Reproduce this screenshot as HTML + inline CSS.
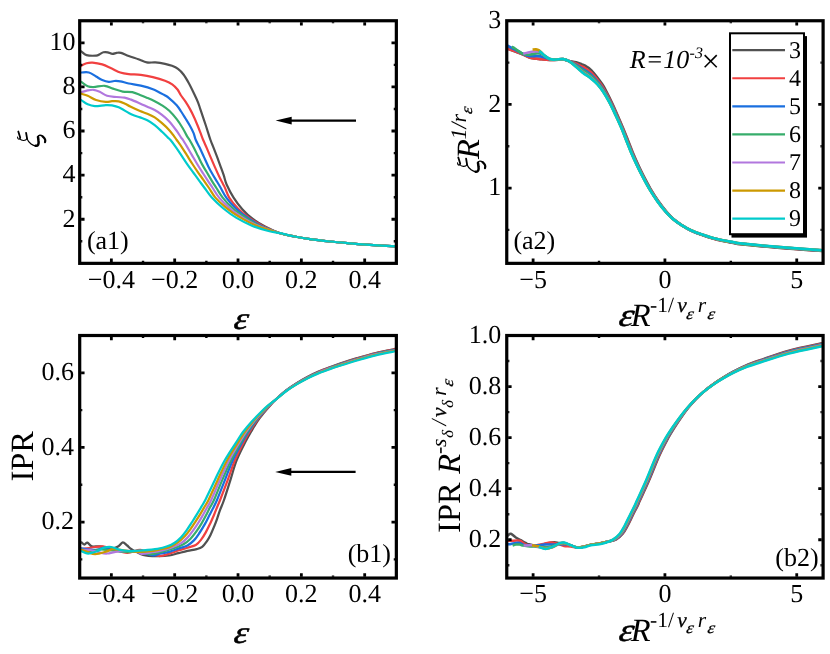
<!DOCTYPE html>
<html><head><meta charset="utf-8"><title>figure</title>
<style>html,body{margin:0;padding:0;background:#fff;}body{width:830px;height:654px;overflow:hidden;font-family:"Liberation Serif",serif;}svg{display:block;will-change:transform;}text{text-rendering:geometricPrecision;}</style></head>
<body>
<svg width="830" height="654" viewBox="0 0 830 654" font-family="'Liberation Serif', serif" fill="#000">
<rect width="830" height="654" fill="#fff"/>
<clipPath id="ca1"><rect x="79.70" y="20.75" width="316.65" height="242.60"/></clipPath>
<g clip-path="url(#ca1)" fill="none" stroke-width="2.20" stroke-linejoin="round" stroke-linecap="butt">
<path d="M79.70,50.60C80.02,50.78 80.47,50.95 81.60,51.70C82.73,52.45 84.08,54.45 86.50,55.10C88.92,55.75 93.90,55.75 96.10,55.60C98.30,55.45 98.48,54.75 99.70,54.20C100.92,53.65 102.08,52.62 103.40,52.30C104.72,51.98 106.10,52.03 107.60,52.30C109.10,52.57 110.90,53.80 112.40,53.90C113.90,54.00 115.18,53.07 116.60,52.90C118.02,52.73 118.88,52.38 120.90,52.90C122.92,53.42 125.78,54.93 128.70,56.00C131.62,57.07 135.38,58.23 138.40,59.30C141.42,60.37 143.98,61.88 146.80,62.40C149.62,62.92 152.27,62.17 155.30,62.40C158.33,62.63 162.22,63.23 165.00,63.80C167.78,64.37 169.83,64.95 172.00,65.80C174.17,66.65 176.08,67.45 178.00,68.90C179.92,70.35 181.67,72.07 183.50,74.50C185.33,76.93 187.13,80.08 189.00,83.50C190.87,86.92 193.20,91.87 194.70,95.00C196.20,98.13 197.05,99.92 198.00,102.30C198.95,104.68 199.15,105.60 200.40,109.30C201.65,113.00 203.82,119.38 205.50,124.50C207.18,129.62 209.18,136.20 210.50,140.00C211.82,143.80 212.30,144.48 213.40,147.30C214.50,150.12 215.87,153.60 217.10,156.90C218.33,160.20 219.70,164.05 220.80,167.10C221.90,170.15 222.73,172.30 223.70,175.20C224.67,178.10 224.95,180.77 226.60,184.50C228.25,188.23 230.98,193.48 233.60,197.60C236.22,201.72 239.15,205.68 242.30,209.20C245.45,212.72 248.63,215.78 252.50,218.70C256.37,221.62 260.90,224.28 265.50,226.70C270.10,229.12 275.25,231.57 280.10,233.20C284.95,234.83 289.62,235.50 294.60,236.50C299.58,237.50 304.10,238.37 310.00,239.20C315.90,240.03 323.33,240.82 330.00,241.50C336.67,242.18 343.33,242.73 350.00,243.30C356.67,243.87 362.23,244.38 370.00,244.90C377.77,245.42 392.17,246.15 396.60,246.40" stroke="#515151"/>
<path d="M79.70,67.20C80.02,66.93 80.47,66.27 81.60,65.60C82.73,64.93 84.68,63.70 86.50,63.20C88.32,62.70 89.88,62.40 92.50,62.60C95.12,62.80 98.98,63.40 102.20,64.40C105.42,65.40 108.78,67.25 111.80,68.60C114.82,69.95 117.48,71.58 120.30,72.50C123.12,73.42 125.28,73.70 128.70,74.10C132.12,74.50 136.77,74.40 140.80,74.90C144.83,75.40 148.87,76.13 152.90,77.10C156.93,78.07 161.78,79.50 165.00,80.70C168.22,81.90 170.12,82.83 172.20,84.30C174.28,85.77 176.08,87.72 177.50,89.50C178.92,91.28 179.37,92.98 180.70,95.00C182.03,97.02 183.97,99.28 185.50,101.60C187.03,103.92 188.43,106.22 189.90,108.90C191.37,111.58 192.95,114.77 194.30,117.70C195.65,120.63 196.98,124.02 198.00,126.50C199.02,128.98 199.53,130.35 200.40,132.60C201.27,134.85 202.13,137.42 203.20,140.00C204.27,142.58 205.58,145.28 206.80,148.10C208.02,150.92 209.15,153.73 210.50,156.90C211.85,160.07 213.43,163.80 214.90,167.10C216.37,170.40 217.95,173.88 219.30,176.70C220.65,179.52 222.02,182.05 223.00,184.00C223.98,185.95 224.17,186.13 225.20,188.40C226.23,190.67 227.08,194.25 229.20,197.60C231.32,200.95 234.75,205.23 237.90,208.50C241.05,211.77 243.98,214.30 248.10,217.20C252.22,220.10 257.27,223.23 262.60,225.90C267.93,228.57 274.77,231.43 280.10,233.20C285.43,234.97 289.62,235.50 294.60,236.50C299.58,237.50 304.10,238.37 310.00,239.20C315.90,240.03 323.33,240.82 330.00,241.50C336.67,242.18 343.33,242.73 350.00,243.30C356.67,243.87 362.23,244.38 370.00,244.90C377.77,245.42 392.17,246.15 396.60,246.40" stroke="#F14040"/>
<path d="M79.70,72.60C80.02,72.58 80.07,72.52 81.60,72.50C83.13,72.48 86.48,71.83 88.90,72.50C91.32,73.17 93.88,75.23 96.10,76.50C98.32,77.77 100.08,79.20 102.20,80.10C104.32,81.00 106.80,81.75 108.80,81.90C110.80,82.05 112.28,81.10 114.20,81.00C116.12,80.90 117.88,80.88 120.30,81.30C122.72,81.72 125.28,82.78 128.70,83.50C132.12,84.22 136.77,84.65 140.80,85.60C144.83,86.55 149.00,87.63 152.90,89.20C156.80,90.77 161.47,93.48 164.20,95.00C166.93,96.52 167.22,96.58 169.30,98.30C171.38,100.02 174.73,103.10 176.70,105.30C178.67,107.50 179.63,109.30 181.10,111.50C182.57,113.70 184.03,116.12 185.50,118.50C186.97,120.88 188.55,123.35 189.90,125.80C191.25,128.25 192.62,130.83 193.60,133.20C194.58,135.57 194.82,137.65 195.80,140.00C196.78,142.35 198.15,144.48 199.50,147.30C200.85,150.12 202.43,153.72 203.90,156.90C205.37,160.08 206.83,163.47 208.30,166.40C209.77,169.33 211.23,171.93 212.70,174.50C214.17,177.07 215.75,179.55 217.10,181.80C218.45,184.05 219.27,185.37 220.80,188.00C222.33,190.63 223.93,194.30 226.30,197.60C228.67,200.90 231.60,204.53 235.00,207.80C238.40,211.07 242.33,214.18 246.70,217.20C251.07,220.22 255.63,223.23 261.20,225.90C266.77,228.57 274.53,231.43 280.10,233.20C285.67,234.97 289.62,235.50 294.60,236.50C299.58,237.50 304.10,238.37 310.00,239.20C315.90,240.03 323.33,240.82 330.00,241.50C336.67,242.18 343.33,242.73 350.00,243.30C356.67,243.87 362.23,244.38 370.00,244.90C377.77,245.42 392.17,246.15 396.60,246.40" stroke="#1A6FDF"/>
<path d="M79.70,80.80C80.02,81.03 80.27,81.30 81.60,82.20C82.93,83.10 85.68,85.40 87.70,86.20C89.72,87.00 90.88,87.07 93.70,87.00C96.52,86.93 101.38,85.53 104.60,85.80C107.82,86.07 109.98,87.63 113.00,88.60C116.02,89.57 119.48,91.00 122.70,91.60C125.92,92.20 129.42,91.63 132.30,92.20C135.18,92.77 137.50,94.05 140.00,95.00C142.50,95.95 144.85,96.87 147.30,97.90C149.75,98.93 152.25,99.97 154.70,101.20C157.15,102.43 159.57,103.70 162.00,105.30C164.43,106.90 166.85,108.48 169.30,110.80C171.75,113.12 174.48,116.33 176.70,119.20C178.92,122.07 180.88,125.18 182.60,128.00C184.32,130.82 185.83,134.10 187.00,136.10C188.17,138.10 188.50,138.13 189.60,140.00C190.70,141.87 192.20,144.62 193.60,147.30C195.00,149.98 196.53,153.17 198.00,156.10C199.47,159.03 200.93,162.20 202.40,164.90C203.87,167.60 205.20,169.60 206.80,172.30C208.40,175.00 210.40,178.48 212.00,181.10C213.60,183.72 214.62,185.25 216.40,188.00C218.18,190.75 220.08,194.30 222.70,197.60C225.32,200.90 228.58,204.65 232.10,207.80C235.62,210.95 239.43,213.60 243.80,216.50C248.17,219.40 252.25,222.42 258.30,225.20C264.35,227.98 274.05,231.32 280.10,233.20C286.15,235.08 289.62,235.50 294.60,236.50C299.58,237.50 304.10,238.37 310.00,239.20C315.90,240.03 323.33,240.82 330.00,241.50C336.67,242.18 343.33,242.73 350.00,243.30C356.67,243.87 362.23,244.38 370.00,244.90C377.77,245.42 392.17,246.15 396.60,246.40" stroke="#37AD6B"/>
<path d="M79.70,92.60C80.02,92.53 80.27,92.57 81.60,92.20C82.93,91.83 85.68,90.80 87.70,90.40C89.72,90.00 91.70,89.57 93.70,89.80C95.70,90.03 97.48,90.80 99.70,91.80C101.92,92.80 104.18,94.93 107.00,95.80C109.82,96.67 113.68,96.70 116.60,97.00C119.52,97.30 122.10,97.17 124.50,97.60C126.90,98.03 128.42,98.63 131.00,99.60C133.58,100.57 137.28,102.22 140.00,103.40C142.72,104.58 144.85,105.60 147.30,106.70C149.75,107.80 152.25,108.65 154.70,110.00C157.15,111.35 159.57,112.90 162.00,114.80C164.43,116.70 166.85,118.72 169.30,121.40C171.75,124.08 174.73,128.20 176.70,130.90C178.67,133.60 180.05,136.08 181.10,137.60C182.15,139.12 182.02,138.50 183.00,140.00C183.98,141.50 185.48,144.03 187.00,146.60C188.52,149.17 190.38,152.47 192.10,155.40C193.82,158.33 195.58,161.38 197.30,164.20C199.02,167.02 200.68,169.60 202.40,172.30C204.12,175.00 205.88,177.78 207.60,180.40C209.32,183.02 210.78,185.13 212.70,188.00C214.62,190.87 216.35,194.30 219.10,197.60C221.85,200.90 225.57,204.65 229.20,207.80C232.83,210.95 236.30,213.60 240.90,216.50C245.50,219.40 250.27,222.42 256.80,225.20C263.33,227.98 273.80,231.32 280.10,233.20C286.40,235.08 289.62,235.50 294.60,236.50C299.58,237.50 304.10,238.37 310.00,239.20C315.90,240.03 323.33,240.82 330.00,241.50C336.67,242.18 343.33,242.73 350.00,243.30C356.67,243.87 362.23,244.38 370.00,244.90C377.77,245.42 392.17,246.15 396.60,246.40" stroke="#B177DE"/>
<path d="M79.70,93.20C80.02,93.30 80.27,93.37 81.60,93.80C82.93,94.23 85.28,94.77 87.70,95.80C90.12,96.83 93.08,98.98 96.10,100.00C99.12,101.02 103.15,101.70 105.80,101.90C108.45,102.10 109.85,101.30 112.00,101.20C114.15,101.10 116.52,100.88 118.70,101.30C120.88,101.72 123.17,102.82 125.10,103.70C127.03,104.58 127.82,105.37 130.30,106.60C132.78,107.83 137.17,109.92 140.00,111.10C142.83,112.28 144.85,112.65 147.30,113.70C149.75,114.75 152.25,115.82 154.70,117.40C157.15,118.98 159.57,121.07 162.00,123.20C164.43,125.33 167.22,127.93 169.30,130.20C171.38,132.47 173.27,135.17 174.50,136.80C175.73,138.43 175.47,138.25 176.70,140.00C177.93,141.75 180.18,144.73 181.90,147.30C183.62,149.87 185.30,152.70 187.00,155.40C188.70,158.10 190.27,160.68 192.10,163.50C193.93,166.32 196.15,169.62 198.00,172.30C199.85,174.98 201.37,176.98 203.20,179.60C205.03,182.22 206.97,185.00 209.00,188.00C211.03,191.00 212.52,194.30 215.40,197.60C218.28,200.90 222.42,204.65 226.30,207.80C230.18,210.95 233.85,213.60 238.70,216.50C243.55,219.40 248.50,222.42 255.40,225.20C262.30,227.98 273.57,231.32 280.10,233.20C286.63,235.08 289.62,235.50 294.60,236.50C299.58,237.50 304.10,238.37 310.00,239.20C315.90,240.03 323.33,240.82 330.00,241.50C336.67,242.18 343.33,242.73 350.00,243.30C356.67,243.87 362.23,244.38 370.00,244.90C377.77,245.42 392.17,246.15 396.60,246.40" stroke="#CC9900"/>
<path d="M79.70,99.20C80.02,99.40 80.27,99.55 81.60,100.40C82.93,101.25 85.48,103.35 87.70,104.30C89.92,105.25 91.88,105.97 94.90,106.10C97.92,106.23 102.95,105.22 105.80,105.10C108.65,104.98 109.85,105.03 112.00,105.40C114.15,105.77 115.40,105.77 118.70,107.30C122.00,108.83 128.25,112.92 131.80,114.60C135.35,116.28 137.42,116.45 140.00,117.40C142.58,118.35 144.85,119.02 147.30,120.30C149.75,121.58 152.25,123.20 154.70,125.10C157.15,127.00 159.80,129.62 162.00,131.70C164.20,133.78 166.48,136.22 167.90,137.60C169.32,138.98 169.15,138.38 170.50,140.00C171.85,141.62 174.10,144.62 176.00,147.30C177.90,149.98 179.95,153.17 181.90,156.10C183.85,159.03 185.75,162.08 187.70,164.90C189.65,167.72 191.63,170.30 193.60,173.00C195.57,175.70 197.67,178.60 199.50,181.10C201.33,183.60 202.55,185.25 204.60,188.00C206.65,190.75 208.67,194.18 211.80,197.60C214.93,201.02 219.28,205.12 223.40,208.50C227.52,211.88 231.65,215.00 236.50,217.90C241.35,220.80 247.17,223.72 252.50,225.90C257.83,228.08 263.90,229.78 268.50,231.00C273.10,232.22 275.75,232.28 280.10,233.20C284.45,234.12 289.62,235.50 294.60,236.50C299.58,237.50 304.10,238.37 310.00,239.20C315.90,240.03 323.33,240.82 330.00,241.50C336.67,242.18 343.33,242.73 350.00,243.30C356.67,243.87 362.23,244.38 370.00,244.90C377.77,245.42 392.17,246.15 396.60,246.40" stroke="#00CBCC"/>
</g>
<path d="M111.36,261.95v-3.45M111.36,22.15v3.45M174.69,261.95v-3.45M174.69,22.15v3.45M238.03,261.95v-3.45M238.03,22.15v3.45M301.36,261.95v-3.45M301.36,22.15v3.45M364.69,261.95v-3.45M364.69,22.15v3.45M81.10,219.24h3.45M394.95,219.24h-3.45M81.10,175.13h3.45M394.95,175.13h-3.45M81.10,131.02h3.45M394.95,131.02h-3.45M81.10,86.91h3.45M394.95,86.91h-3.45M81.10,42.80h3.45M394.95,42.80h-3.45" stroke="#000" stroke-width="2.8" fill="none"/>
<path d="M143.03,261.95v-1.20M143.03,22.15v1.20M206.36,261.95v-1.20M206.36,22.15v1.20M269.69,261.95v-1.20M269.69,22.15v1.20M333.02,261.95v-1.20M333.02,22.15v1.20M81.10,241.30h1.20M394.95,241.30h-1.20M81.10,197.19h1.20M394.95,197.19h-1.20M81.10,153.08h1.20M394.95,153.08h-1.20M81.10,108.97h1.20M394.95,108.97h-1.20M81.10,64.86h1.20M394.95,64.86h-1.20" stroke="#000" stroke-width="2.4" fill="none"/>
<rect x="79.70" y="20.75" width="316.65" height="242.60" fill="none" stroke="#000" stroke-width="3.20"/>
<text x="111.36" y="287.65" text-anchor="middle" font-size="26">−0.4</text>
<text x="174.69" y="287.65" text-anchor="middle" font-size="26">−0.2</text>
<text x="238.03" y="287.65" text-anchor="middle" font-size="26">0.0</text>
<text x="301.36" y="287.65" text-anchor="middle" font-size="26">0.2</text>
<text x="364.69" y="287.65" text-anchor="middle" font-size="26">0.4</text>
<text x="75.50" y="226.54" text-anchor="end" font-size="26">2</text>
<text x="75.50" y="182.43" text-anchor="end" font-size="26">4</text>
<text x="75.50" y="138.32" text-anchor="end" font-size="26">6</text>
<text x="75.50" y="94.21" text-anchor="end" font-size="26">8</text>
<text x="75.50" y="50.10" text-anchor="end" font-size="26">10</text>
<clipPath id="cb1"><rect x="79.70" y="335.50" width="316.65" height="242.55"/></clipPath>
<g clip-path="url(#cb1)" fill="none" stroke-width="2.25" stroke-linejoin="round" stroke-linecap="butt">
<path d="M79.70,541.80C80.02,541.93 80.80,542.15 81.60,542.60C82.40,543.05 83.53,544.50 84.50,544.50C85.47,544.50 86.20,542.30 87.40,542.60C88.60,542.90 89.65,545.68 91.70,546.30C93.75,546.92 96.98,546.02 99.70,546.30C102.42,546.58 105.62,547.72 108.00,548.00C110.38,548.28 112.25,548.28 114.00,548.00C115.75,547.72 117.03,547.23 118.50,546.30C119.97,545.37 121.35,542.53 122.80,542.40C124.25,542.27 125.75,544.37 127.20,545.50C128.65,546.63 128.85,547.63 131.50,549.20C134.15,550.77 138.68,553.73 143.10,554.90C147.52,556.07 153.65,556.10 158.00,556.20C162.35,556.30 165.82,556.00 169.20,555.50C172.58,555.00 175.25,553.97 178.30,553.20C181.35,552.43 184.43,551.58 187.50,550.90C190.57,550.22 194.25,549.78 196.70,549.10C199.15,548.42 200.52,548.10 202.20,546.80C203.88,545.50 205.42,543.28 206.80,541.30C208.18,539.32 209.28,537.35 210.50,534.90C211.72,532.45 213.03,529.20 214.10,526.60C215.17,524.00 215.92,522.05 216.90,519.30C217.88,516.55 218.82,513.32 220.00,510.10C221.18,506.88 222.28,504.95 224.00,500.00C225.72,495.05 228.18,487.03 230.30,480.40C232.42,473.77 234.02,466.93 236.70,460.20C239.38,453.47 244.03,444.70 246.40,440.00C248.77,435.30 249.10,435.08 250.90,432.00C252.70,428.92 255.07,424.67 257.20,421.50C259.33,418.33 261.57,415.63 263.70,413.00C265.83,410.37 268.00,407.95 270.00,405.70C272.00,403.45 272.97,402.08 275.70,399.50C278.43,396.92 282.83,392.97 286.40,390.20C289.97,387.43 293.53,385.15 297.10,382.90C300.67,380.65 304.23,378.58 307.80,376.70C311.37,374.82 314.93,373.15 318.50,371.60C322.07,370.05 325.63,368.73 329.20,367.40C332.77,366.07 335.27,365.13 339.90,363.60C344.53,362.07 351.03,359.97 357.00,358.20C362.97,356.43 369.10,354.58 375.70,353.00C382.30,351.42 393.12,349.42 396.60,348.70" stroke="#515151"/>
<path d="M79.70,549.40C80.02,549.37 79.55,549.52 81.60,549.20C83.65,548.88 88.50,547.98 92.00,547.50C95.50,547.02 99.15,546.02 102.60,546.30C106.05,546.58 108.60,548.12 112.70,549.20C116.80,550.28 122.62,552.68 127.20,552.80C131.78,552.92 136.07,549.67 140.20,549.90C144.33,550.13 148.70,553.18 152.00,554.20C155.30,555.22 157.13,556.08 160.00,556.00C162.87,555.92 166.15,554.62 169.20,553.70C172.25,552.78 175.25,551.50 178.30,550.50C181.35,549.50 184.58,548.62 187.50,547.70C190.42,546.78 193.50,546.38 195.80,545.00C198.10,543.62 199.62,541.55 201.30,539.40C202.98,537.25 204.45,534.68 205.90,532.10C207.35,529.52 208.63,526.80 210.00,523.90C211.37,521.00 212.80,517.77 214.10,514.70C215.40,511.63 216.80,507.95 217.80,505.50C218.80,503.05 218.47,504.18 220.10,500.00C221.73,495.82 225.13,487.03 227.60,480.40C230.07,473.77 232.03,466.93 234.90,460.20C237.77,453.47 242.37,444.70 244.80,440.00C247.23,435.30 247.57,435.08 249.48,432.00C251.38,428.92 253.97,424.67 256.23,421.50C258.49,418.33 260.80,415.63 263.03,413.00C265.26,410.37 267.49,407.95 269.60,405.70C271.72,403.45 272.92,402.06 275.72,399.50C278.52,396.94 282.84,393.07 286.40,390.34C289.96,387.61 293.53,385.34 297.10,383.12C300.67,380.89 304.23,378.84 307.80,376.97C311.37,375.10 314.93,373.46 318.50,371.92C322.07,370.39 325.63,369.08 329.20,367.76C332.77,366.44 335.27,365.52 339.90,364.00C344.53,362.47 351.03,360.38 357.00,358.61C362.97,356.85 369.10,355.00 375.70,353.41C382.30,351.83 393.12,349.83 396.60,349.11" stroke="#F14040"/>
<path d="M79.70,548.20C80.02,548.23 79.00,548.12 81.60,548.40C84.20,548.68 91.08,550.02 95.30,549.90C99.52,549.78 102.55,547.47 106.90,547.70C111.25,547.93 116.10,550.58 121.40,551.30C126.70,552.02 133.40,551.32 138.70,552.00C144.00,552.68 149.65,555.12 153.20,555.40C156.75,555.68 157.33,554.30 160.00,553.70C162.67,553.10 166.15,552.65 169.20,551.80C172.25,550.95 175.25,549.67 178.30,548.60C181.35,547.53 184.90,546.77 187.50,545.40C190.10,544.03 191.92,542.47 193.90,540.40C195.88,538.33 197.55,535.75 199.40,533.00C201.25,530.25 203.32,526.88 205.00,523.90C206.68,520.92 208.05,517.93 209.50,515.10C210.95,512.27 212.45,509.42 213.70,506.90C214.95,504.38 215.15,504.42 217.00,500.00C218.85,495.58 222.17,487.03 224.80,480.40C227.43,473.77 229.70,466.93 232.80,460.20C235.90,453.47 240.83,444.70 243.40,440.00C245.97,435.30 246.22,435.08 248.21,432.00C250.21,428.92 252.99,424.67 255.36,421.50C257.74,418.33 260.13,415.63 262.44,413.00C264.76,410.37 267.04,407.95 269.25,405.70C271.47,403.45 272.88,402.04 275.73,399.50C278.59,396.96 282.84,393.17 286.40,390.47C289.96,387.77 293.53,385.52 297.10,383.31C300.67,381.10 304.23,379.06 307.80,377.21C311.37,375.36 314.93,373.73 318.50,372.21C322.07,370.69 325.63,369.39 329.20,368.08C332.77,366.77 335.27,365.86 339.90,364.35C344.53,362.83 351.03,360.74 357.00,358.98C362.97,357.22 369.10,355.37 375.70,353.78C382.30,352.20 393.12,350.20 396.60,349.48" stroke="#1A6FDF"/>
<path d="M79.70,549.50C81.42,549.75 86.62,551.00 90.00,551.00C93.38,551.00 96.33,549.58 100.00,549.50C103.67,549.42 107.83,550.08 112.00,550.50C116.17,550.92 120.07,551.75 125.00,552.00C129.93,552.25 137.38,551.63 141.60,552.00C145.82,552.37 147.23,554.15 150.30,554.20C153.37,554.25 156.08,553.30 160.00,552.30C163.92,551.30 169.82,549.58 173.80,548.20C177.78,546.82 181.15,545.53 183.90,544.00C186.65,542.47 188.25,541.05 190.30,539.00C192.35,536.95 194.37,534.22 196.20,531.70C198.03,529.18 199.68,526.58 201.30,523.90C202.92,521.22 204.45,518.37 205.90,515.60C207.35,512.83 208.65,509.90 210.00,507.30C211.35,504.70 211.98,504.48 214.00,500.00C216.02,495.52 219.27,487.03 222.10,480.40C224.93,473.77 227.65,466.93 231.00,460.20C234.35,453.47 239.52,444.70 242.20,440.00C244.88,435.30 245.04,435.08 247.11,432.00C249.18,428.92 252.14,424.67 254.61,421.50C257.08,418.33 259.53,415.63 261.92,413.00C264.31,410.37 266.64,407.95 268.94,405.70C271.25,403.45 272.84,402.02 275.75,399.50C278.66,396.98 282.84,393.25 286.40,390.58C289.96,387.91 293.53,385.67 297.10,383.48C300.67,381.28 304.23,379.26 307.80,377.42C311.37,375.58 314.93,373.97 318.50,372.46C322.07,370.95 325.63,369.66 329.20,368.36C332.77,367.06 335.27,366.17 339.90,364.66C344.53,363.15 351.03,361.06 357.00,359.30C362.97,357.55 369.10,355.69 375.70,354.10C382.30,352.52 393.12,350.52 396.60,349.80" stroke="#37AD6B"/>
<path d="M79.70,549.90C80.02,549.90 79.95,549.90 81.60,549.90C83.25,549.90 86.87,549.55 89.60,549.90C92.33,550.25 95.12,551.40 98.00,552.00C100.88,552.60 103.48,553.62 106.90,553.50C110.32,553.38 113.68,551.67 118.50,551.30C123.32,550.93 131.95,550.88 135.80,551.30C139.65,551.72 139.23,553.58 141.60,553.80C143.97,554.02 146.93,553.08 150.00,552.60C153.07,552.12 156.50,551.72 160.00,550.90C163.50,550.08 167.48,549.00 171.00,547.70C174.52,546.40 178.35,544.78 181.10,543.10C183.85,541.42 185.52,539.67 187.50,537.60C189.48,535.53 191.17,533.22 193.00,530.70C194.83,528.18 196.82,525.17 198.50,522.50C200.18,519.83 201.57,517.38 203.10,514.70C204.63,512.02 206.35,508.85 207.70,506.40C209.05,503.95 209.18,504.33 211.20,500.00C213.22,495.67 216.82,487.03 219.80,480.40C222.78,473.77 225.58,466.93 229.10,460.20C232.62,453.47 238.10,444.70 240.90,440.00C243.70,435.30 243.77,435.08 245.92,432.00C248.07,428.92 251.22,424.67 253.80,421.50C256.37,418.33 258.90,415.63 261.37,413.00C263.84,410.37 266.22,407.95 268.61,405.70C271.01,403.45 272.80,402.00 275.76,399.50C278.73,397.00 282.84,393.34 286.40,390.70C289.96,388.06 293.53,385.83 297.10,383.66C300.67,381.48 304.23,379.47 307.80,377.64C311.37,375.82 314.93,374.23 318.50,372.73C322.07,371.24 325.63,369.95 329.20,368.66C332.77,367.37 335.27,366.49 339.90,364.99C344.53,363.48 351.03,361.41 357.00,359.65C362.97,357.89 369.10,356.03 375.70,354.45C382.30,352.87 393.12,350.87 396.60,350.15" stroke="#B177DE"/>
<path d="M79.70,549.50C80.02,549.57 80.22,549.48 81.60,549.90C82.98,550.32 85.72,551.28 88.00,552.00C90.28,552.72 92.15,554.32 95.30,554.20C98.45,554.08 104.00,552.13 106.90,551.30C109.80,550.47 109.57,549.32 112.70,549.20C115.83,549.08 121.37,550.17 125.70,550.60C130.03,551.03 134.12,551.75 138.70,551.80C143.28,551.85 149.65,551.28 153.20,550.90C156.75,550.52 157.33,550.12 160.00,549.50C162.67,548.88 166.15,548.42 169.20,547.20C172.25,545.98 175.70,544.03 178.30,542.20C180.90,540.37 182.80,538.33 184.80,536.20C186.80,534.07 188.47,531.92 190.30,529.40C192.13,526.88 194.12,523.70 195.80,521.10C197.48,518.50 198.87,516.32 200.40,513.80C201.93,511.28 203.65,508.30 205.00,506.00C206.35,503.70 206.42,504.27 208.50,500.00C210.58,495.73 214.40,487.03 217.50,480.40C220.60,473.77 223.43,466.93 227.10,460.20C230.77,453.47 236.57,444.70 239.50,440.00C242.43,435.30 242.42,435.08 244.66,432.00C246.90,428.92 250.25,424.67 252.93,421.50C255.62,418.33 258.22,415.63 260.78,413.00C263.33,410.37 265.76,407.95 268.26,405.70C270.76,403.45 272.76,401.98 275.78,399.50C278.80,397.02 282.85,393.44 286.40,390.83C289.95,388.22 293.53,386.01 297.10,383.85C300.67,381.69 304.23,379.69 307.80,377.88C311.37,376.08 314.93,374.51 318.50,373.02C322.07,371.54 325.63,370.26 329.20,368.98C332.77,367.70 335.27,366.83 339.90,365.34C344.53,363.84 351.03,361.77 357.00,360.02C362.97,358.26 369.10,356.40 375.70,354.82C382.30,353.23 393.12,351.23 396.60,350.52" stroke="#CC9900"/>
<path d="M79.70,550.80C80.02,550.88 80.20,550.85 81.60,551.30C83.00,551.75 85.57,553.50 88.10,553.50C90.63,553.50 94.15,552.27 96.80,551.30C99.45,550.33 101.58,548.42 104.00,547.70C106.42,546.98 108.65,546.63 111.30,547.00C113.95,547.37 117.02,549.23 119.90,549.90C122.78,550.57 124.73,550.93 128.60,551.00C132.47,551.07 138.28,550.67 143.10,550.30C147.92,549.93 153.47,549.47 157.50,548.80C161.53,548.13 164.43,547.32 167.30,546.30C170.17,545.28 172.40,544.22 174.70,542.70C177.00,541.18 179.12,539.27 181.10,537.20C183.08,535.13 184.77,532.83 186.60,530.30C188.43,527.77 190.42,524.60 192.10,522.00C193.78,519.40 195.17,517.22 196.70,514.70C198.23,512.18 199.87,509.35 201.30,506.90C202.73,504.45 203.07,504.42 205.30,500.00C207.53,495.58 211.45,487.03 214.70,480.40C217.95,473.77 220.97,466.93 224.80,460.20C228.63,453.47 234.67,444.70 237.70,440.00C240.73,435.30 240.65,435.08 243.00,432.00C245.35,428.92 248.97,424.67 251.80,421.50C254.63,418.33 257.33,415.63 260.00,413.00C262.67,410.37 265.17,407.95 267.80,405.70C270.43,403.45 272.70,401.95 275.80,399.50C278.90,397.05 282.85,393.57 286.40,391.00C289.95,388.43 293.53,386.23 297.10,384.10C300.67,381.97 304.23,379.98 307.80,378.20C311.37,376.42 314.93,374.87 318.50,373.40C322.07,371.93 325.63,370.67 329.20,369.40C332.77,368.13 335.27,367.28 339.90,365.80C344.53,364.32 351.03,362.25 357.00,360.50C362.97,358.75 369.10,356.88 375.70,355.30C382.30,353.72 393.12,351.72 396.60,351.00" stroke="#00CBCC"/>
</g>
<path d="M111.36,576.65v-3.45M111.36,336.90v3.45M174.69,576.65v-3.45M174.69,336.90v3.45M238.03,576.65v-3.45M238.03,336.90v3.45M301.36,576.65v-3.45M301.36,336.90v3.45M364.69,576.65v-3.45M364.69,336.90v3.45M81.10,522.08h3.45M394.95,522.08h-3.45M81.10,447.45h3.45M394.95,447.45h-3.45M81.10,372.82h3.45M394.95,372.82h-3.45" stroke="#000" stroke-width="2.8" fill="none"/>
<path d="M143.03,576.65v-1.20M143.03,336.90v1.20M206.36,576.65v-1.20M206.36,336.90v1.20M269.69,576.65v-1.20M269.69,336.90v1.20M333.02,576.65v-1.20M333.02,336.90v1.20M81.10,559.39h1.20M394.95,559.39h-1.20M81.10,484.76h1.20M394.95,484.76h-1.20M81.10,410.13h1.20M394.95,410.13h-1.20" stroke="#000" stroke-width="2.4" fill="none"/>
<rect x="79.70" y="335.50" width="316.65" height="242.55" fill="none" stroke="#000" stroke-width="3.20"/>
<text x="111.36" y="602.35" text-anchor="middle" font-size="26">−0.4</text>
<text x="174.69" y="602.35" text-anchor="middle" font-size="26">−0.2</text>
<text x="238.03" y="602.35" text-anchor="middle" font-size="26">0.0</text>
<text x="301.36" y="602.35" text-anchor="middle" font-size="26">0.2</text>
<text x="364.69" y="602.35" text-anchor="middle" font-size="26">0.4</text>
<text x="74.10" y="529.38" text-anchor="end" font-size="26">0.2</text>
<text x="74.10" y="454.75" text-anchor="end" font-size="26">0.4</text>
<text x="74.10" y="380.12" text-anchor="end" font-size="26">0.6</text>
<clipPath id="ca2"><rect x="506.75" y="20.75" width="316.35" height="242.60"/></clipPath>
<g clip-path="url(#ca2)" fill="none" stroke-width="2.70" stroke-linejoin="round" stroke-linecap="butt">
<path d="M506.75,48.20C507.06,48.32 507.06,48.30 508.60,48.90C510.14,49.50 513.57,50.85 516.00,51.80C518.43,52.75 520.67,53.57 523.20,54.60C525.73,55.63 528.18,57.23 531.20,58.00C534.22,58.77 538.17,58.88 541.30,59.20C544.43,59.52 547.55,59.80 550.00,59.90C552.45,60.00 553.83,59.87 556.00,59.80C558.17,59.73 560.85,59.30 563.00,59.50C565.15,59.70 566.70,60.52 568.90,61.00C571.10,61.48 574.02,61.83 576.20,62.40C578.38,62.97 580.53,63.85 582.00,64.40C583.47,64.95 583.48,64.73 585.00,65.70C586.52,66.67 588.25,67.13 591.10,70.20C593.95,73.27 599.53,80.47 602.10,84.10C604.67,87.73 604.90,88.95 606.50,92.00C608.10,95.05 609.87,98.53 611.70,102.40C613.53,106.27 615.57,110.82 617.50,115.20C619.43,119.58 621.58,124.57 623.30,128.70C625.02,132.83 626.25,136.08 627.80,140.00C629.35,143.92 630.91,148.16 632.61,152.24C634.31,156.31 636.11,160.38 638.01,164.48C639.91,168.57 641.91,172.72 644.00,176.82C646.10,180.92 648.17,184.98 650.58,189.07C652.99,193.15 655.73,197.47 658.44,201.33C661.14,205.18 664.29,209.25 666.78,212.19C669.27,215.12 670.84,216.75 673.36,218.94C675.88,221.12 678.91,223.34 681.90,225.30C684.90,227.25 688.02,229.08 691.33,230.67C694.63,232.26 698.27,233.57 701.74,234.85C705.21,236.12 708.65,237.30 712.14,238.32C715.64,239.34 719.17,240.22 722.70,240.98C726.23,241.74 730.42,242.36 733.30,242.88C736.18,243.40 735.55,243.55 740.00,244.08C744.45,244.61 753.33,245.46 760.00,246.08C766.67,246.70 773.33,247.23 780.00,247.78C786.67,248.33 792.82,248.85 800.00,249.38C807.18,249.91 819.25,250.71 823.10,250.98" stroke="#515151"/>
<path d="M506.75,48.30C507.06,48.40 507.06,48.35 508.60,48.90C510.14,49.45 513.57,50.68 516.00,51.60C518.43,52.52 520.67,53.33 523.20,54.40C525.73,55.47 528.18,57.20 531.20,58.00C534.22,58.80 538.17,58.88 541.30,59.20C544.43,59.52 547.55,59.82 550.00,59.90C552.45,59.98 553.83,59.80 556.00,59.70C558.17,59.60 560.85,59.07 563.00,59.30C565.15,59.53 566.70,60.32 568.90,61.06C571.10,61.79 574.02,62.77 576.20,63.69C578.38,64.60 580.53,65.82 582.00,66.56C583.47,67.29 583.48,67.11 585.00,68.11C586.52,69.11 588.48,69.89 591.10,72.55C593.72,75.22 598.31,80.86 600.73,84.10C603.15,87.34 603.88,88.95 605.60,92.00C607.33,95.05 609.16,98.53 611.06,102.40C612.95,106.27 615.00,110.82 616.97,115.20C618.93,119.58 621.13,124.57 622.85,128.70C624.58,132.83 625.77,136.08 627.32,140.00C628.88,143.92 630.45,148.15 632.16,152.23C633.87,156.30 635.68,160.36 637.59,164.45C639.50,168.55 641.50,172.69 643.61,176.79C645.71,180.88 647.80,184.94 650.22,189.02C652.64,193.10 655.40,197.42 658.12,201.26C660.83,205.11 664.01,209.18 666.51,212.11C669.01,215.04 670.59,216.66 673.12,218.84C675.65,221.02 678.70,223.24 681.71,225.19C684.72,227.14 687.86,228.95 691.18,230.54C694.50,232.12 698.16,233.42 701.64,234.69C705.13,235.96 708.59,237.13 712.10,238.15C715.61,239.16 719.17,240.03 722.70,240.79C726.23,241.55 730.42,242.17 733.30,242.69C736.18,243.21 735.55,243.36 740.00,243.89C744.45,244.42 753.33,245.27 760.00,245.89C766.67,246.51 773.33,247.04 780.00,247.59C786.67,248.14 792.82,248.66 800.00,249.19C807.18,249.72 819.25,250.52 823.10,250.79" stroke="#F14040"/>
<path d="M506.75,45.50C507.06,45.63 507.23,45.63 508.60,46.30C509.98,46.97 512.57,48.22 515.00,49.50C517.43,50.78 520.75,52.88 523.20,54.00C525.65,55.12 527.40,55.88 529.70,56.20C532.00,56.52 534.58,55.72 537.00,55.90C539.42,56.08 542.03,56.70 544.20,57.30C546.37,57.90 548.03,59.12 550.00,59.50C551.97,59.88 553.83,59.65 556.00,59.60C558.17,59.55 560.85,58.95 563.00,59.20C565.15,59.45 566.70,60.16 568.90,61.11C571.10,62.06 574.02,63.68 576.20,64.93C578.38,66.18 580.53,67.72 582.00,68.64C583.47,69.55 583.48,69.40 585.00,70.43C586.52,71.46 588.70,72.54 591.10,74.82C593.50,77.10 597.13,81.24 599.41,84.10C601.68,86.96 602.90,88.95 604.74,92.00C606.58,95.05 608.48,98.53 610.44,102.40C612.39,106.27 614.46,110.82 616.46,115.20C618.45,119.58 620.68,124.57 622.42,128.70C624.15,132.83 625.31,136.08 626.87,140.00C628.42,143.92 630.01,148.14 631.73,152.22C633.44,156.29 635.26,160.34 637.18,164.43C639.10,168.52 641.11,172.66 643.23,176.75C645.35,180.84 647.45,184.90 649.88,188.98C652.31,193.05 655.08,197.36 657.81,201.20C660.54,205.04 663.73,209.10 666.24,212.03C668.75,214.95 670.34,216.58 672.89,218.75C675.43,220.93 678.49,223.14 681.52,225.08C684.54,227.02 687.70,228.83 691.04,230.41C694.38,231.99 698.05,233.28 701.55,234.55C705.06,235.81 708.54,236.97 712.07,237.98C715.59,238.99 719.16,239.85 722.70,240.61C726.24,241.36 730.42,241.99 733.30,242.51C736.18,243.02 735.55,243.17 740.00,243.71C744.45,244.24 753.33,245.09 760.00,245.71C766.67,246.32 773.33,246.86 780.00,247.41C786.67,247.96 792.82,248.47 800.00,249.01C807.18,249.54 819.25,250.34 823.10,250.61" stroke="#1A6FDF"/>
<path d="M511.80,46.80C512.17,46.98 513.13,47.37 514.00,47.90C514.87,48.43 515.47,48.98 517.00,50.00C518.53,51.02 521.08,53.22 523.20,54.00C525.32,54.78 527.40,54.83 529.70,54.70C532.00,54.57 535.12,53.35 537.00,53.20C538.88,53.05 539.80,53.40 541.00,53.80C542.20,54.20 542.70,54.70 544.20,55.60C545.70,56.50 548.03,58.55 550.00,59.20C551.97,59.85 553.83,59.52 556.00,59.50C558.17,59.48 560.85,58.83 563.00,59.10C565.15,59.37 566.70,60.05 568.90,61.14C571.10,62.23 574.02,64.18 576.20,65.62C578.38,67.06 580.53,68.77 582.00,69.79C583.47,70.81 583.48,70.67 585.00,71.72C586.52,72.77 588.82,74.02 591.10,76.08C593.38,78.14 596.48,81.45 598.67,84.10C600.86,86.75 602.36,88.95 604.26,92.00C606.16,95.05 608.11,98.53 610.09,102.40C612.08,106.27 614.16,110.82 616.17,115.20C618.19,119.58 620.44,124.57 622.18,128.70C623.92,132.83 625.06,136.08 626.61,140.00C628.16,143.92 629.76,148.14 631.48,152.21C633.21,156.28 635.03,160.34 636.95,164.42C638.88,168.51 640.90,172.65 643.02,176.74C645.14,180.82 647.25,184.88 649.68,188.95C652.12,193.02 654.91,197.33 657.64,201.17C660.38,205.01 663.57,209.06 666.09,211.99C668.61,214.91 670.21,216.53 672.76,218.70C675.31,220.87 678.38,223.08 681.41,225.02C684.44,226.96 687.61,228.77 690.96,230.34C694.31,231.91 697.99,233.21 701.50,234.46C705.02,235.72 708.51,236.88 712.04,237.89C715.58,238.89 719.16,239.75 722.70,240.50C726.24,241.26 730.42,241.89 733.30,242.40C736.18,242.92 735.55,243.07 740.00,243.60C744.45,244.14 753.33,244.99 760.00,245.60C766.67,246.22 773.33,246.75 780.00,247.30C786.67,247.85 792.82,248.37 800.00,248.90C807.18,249.44 819.25,250.24 823.10,250.50" stroke="#37AD6B"/>
<path d="M523.20,53.70C524.03,53.50 526.38,52.87 528.20,52.50C530.02,52.13 532.30,51.68 534.10,51.50C535.90,51.32 537.77,51.18 539.00,51.40C540.23,51.62 540.63,52.13 541.50,52.80C542.37,53.47 542.78,54.35 544.20,55.40C545.62,56.45 548.05,58.42 550.00,59.10C551.95,59.78 553.72,59.50 555.90,59.50C558.08,59.50 560.93,58.82 563.10,59.10C565.27,59.38 566.72,59.94 568.90,61.18C571.08,62.42 574.02,64.85 576.20,66.54C578.38,68.23 580.53,70.18 582.00,71.33C583.47,72.48 583.48,72.37 585.00,73.44C586.52,74.51 588.99,75.98 591.10,77.76C593.22,79.54 595.60,81.73 597.69,84.10C599.78,86.47 601.63,88.95 603.62,92.00C605.61,95.05 607.60,98.53 609.63,102.40C611.66,106.27 613.75,110.82 615.79,115.20C617.83,119.58 620.11,124.57 621.86,128.70C623.61,132.83 624.72,136.08 626.27,140.00C627.82,143.92 629.43,148.14 631.16,152.20C632.89,156.27 634.72,160.32 636.65,164.41C638.58,168.49 640.61,172.63 642.74,176.71C644.87,180.80 646.98,184.85 649.43,188.92C651.87,192.99 654.67,197.29 657.41,201.12C660.16,204.96 663.37,209.01 665.90,211.93C668.43,214.85 670.02,216.47 672.59,218.63C675.15,220.80 678.23,223.00 681.27,224.94C684.31,226.88 687.49,228.68 690.85,230.25C694.21,231.82 697.91,233.10 701.43,234.35C704.96,235.61 708.47,236.76 712.01,237.76C715.56,238.76 719.15,239.62 722.70,240.37C726.25,241.12 730.42,241.75 733.30,242.27C736.18,242.78 735.55,242.93 740.00,243.47C744.45,244.00 753.33,244.85 760.00,245.47C766.67,246.08 773.33,246.62 780.00,247.17C786.67,247.72 792.82,248.23 800.00,248.77C807.18,249.30 819.25,250.10 823.10,250.37" stroke="#B177DE"/>
<path d="M532.60,49.60C533.17,49.55 534.92,49.18 536.00,49.30C537.08,49.42 538.18,49.75 539.10,50.30C540.02,50.85 540.65,51.75 541.50,52.60C542.35,53.45 542.78,54.32 544.20,55.40C545.62,56.48 548.05,58.42 550.00,59.10C551.95,59.78 553.72,59.50 555.90,59.50C558.08,59.50 560.93,58.82 563.10,59.10C565.27,59.38 566.72,59.91 568.90,61.19C571.08,62.47 574.02,65.02 576.20,66.77C578.38,68.52 580.53,70.53 582.00,71.71C583.47,72.90 583.48,72.79 585.00,73.87C586.52,74.95 589.03,76.47 591.10,78.18C593.17,79.88 595.39,81.80 597.45,84.10C599.50,86.40 601.45,88.95 603.46,92.00C605.47,95.05 607.48,98.53 609.51,102.40C611.55,106.27 613.65,110.82 615.70,115.20C617.74,119.58 620.03,124.57 621.78,128.70C623.53,132.83 624.63,136.08 626.19,140.00C627.74,143.92 629.35,148.13 631.08,152.20C632.81,156.27 634.64,160.32 636.58,164.40C638.51,168.49 640.54,172.62 642.67,176.71C644.80,180.79 646.92,184.84 649.36,188.91C651.81,192.98 654.61,197.28 657.36,201.11C660.10,204.95 663.32,209.00 665.85,211.91C668.38,214.83 669.98,216.45 672.54,218.62C675.11,220.78 678.19,222.99 681.24,224.92C684.28,226.85 687.46,228.66 690.83,230.22C694.19,231.79 697.89,233.08 701.42,234.33C704.95,235.58 708.46,236.73 712.01,237.73C715.55,238.73 719.15,239.58 722.70,240.33C726.25,241.08 730.42,241.72 733.30,242.23C736.18,242.75 735.55,242.90 740.00,243.43C744.45,243.97 753.33,244.82 760.00,245.43C766.67,246.05 773.33,246.58 780.00,247.13C786.67,247.68 792.82,248.20 800.00,248.73C807.18,249.27 819.25,250.07 823.10,250.33" stroke="#CC9900"/>
<path d="M539.10,51.10C539.50,51.38 540.65,52.08 541.50,52.80C542.35,53.52 542.78,54.35 544.20,55.40C545.62,56.45 548.05,58.42 550.00,59.10C551.95,59.78 553.72,59.50 555.90,59.50C558.08,59.50 560.93,58.82 563.10,59.10C565.27,59.38 566.72,59.88 568.90,61.20C571.08,62.52 574.02,65.18 576.20,67.00C578.38,68.82 580.53,70.88 582.00,72.10C583.47,73.32 583.48,73.22 585.00,74.30C586.52,75.38 589.07,76.97 591.10,78.60C593.13,80.23 595.17,81.87 597.20,84.10C599.23,86.33 601.27,88.95 603.30,92.00C605.33,95.05 607.35,98.53 609.40,102.40C611.45,106.27 613.55,110.82 615.60,115.20C617.65,119.58 619.95,124.57 621.70,128.70C623.45,132.83 624.55,136.08 626.10,140.00C627.65,143.92 629.27,148.13 631.00,152.20C632.73,156.27 634.57,160.32 636.50,164.40C638.43,168.48 640.47,172.62 642.60,176.70C644.73,180.78 646.85,184.83 649.30,188.90C651.75,192.97 654.55,197.27 657.30,201.10C660.05,204.93 663.27,208.98 665.80,211.90C668.33,214.82 669.93,216.43 672.50,218.60C675.07,220.77 678.15,222.97 681.20,224.90C684.25,226.83 687.43,228.63 690.80,230.20C694.17,231.77 697.87,233.05 701.40,234.30C704.93,235.55 708.45,236.70 712.00,237.70C715.55,238.70 719.15,239.55 722.70,240.30C726.25,241.05 730.42,241.68 733.30,242.20C736.18,242.72 735.55,242.87 740.00,243.40C744.45,243.93 753.33,244.78 760.00,245.40C766.67,246.02 773.33,246.55 780.00,247.10C786.67,247.65 792.82,248.17 800.00,248.70C807.18,249.23 819.25,250.03 823.10,250.30" stroke="#00CBCC"/>
</g>
<path d="M533.11,261.95v-3.45M533.11,22.15v3.45M664.92,261.95v-3.45M664.92,22.15v3.45M796.74,261.95v-3.45M796.74,22.15v3.45M508.15,188.06h3.45M821.70,188.06h-3.45M508.15,104.41h3.45M821.70,104.41h-3.45" stroke="#000" stroke-width="2.8" fill="none"/>
<path d="M599.02,261.95v-1.20M599.02,22.15v1.20M730.83,261.95v-1.20M730.83,22.15v1.20M508.15,229.89h1.20M821.70,229.89h-1.20M508.15,146.23h1.20M821.70,146.23h-1.20M508.15,62.58h1.20M821.70,62.58h-1.20" stroke="#000" stroke-width="2.4" fill="none"/>
<rect x="506.75" y="20.75" width="316.35" height="242.60" fill="none" stroke="#000" stroke-width="3.20"/>
<text x="533.11" y="287.65" text-anchor="middle" font-size="26">−5</text>
<text x="664.92" y="287.65" text-anchor="middle" font-size="26">0</text>
<text x="796.74" y="287.65" text-anchor="middle" font-size="26">5</text>
<text x="501.15" y="195.36" text-anchor="end" font-size="26">1</text>
<text x="501.15" y="111.71" text-anchor="end" font-size="26">2</text>
<text x="501.15" y="28.05" text-anchor="end" font-size="26">3</text>
<clipPath id="cb2"><rect x="506.75" y="335.50" width="316.35" height="242.55"/></clipPath>
<g clip-path="url(#cb2)" fill="none" stroke-width="2.50" stroke-linejoin="round" stroke-linecap="butt">
<path d="M506.75,536.20C506.96,536.05 507.31,535.70 508.00,535.30C508.69,534.90 509.60,533.43 510.90,533.80C512.20,534.17 514.17,536.43 515.80,537.50C517.43,538.57 519.07,539.30 520.70,540.20C522.33,541.10 524.38,542.25 525.60,542.90C526.82,543.55 526.27,543.65 528.00,544.10C529.73,544.55 533.17,545.62 536.00,545.60C538.83,545.58 542.02,544.57 545.00,544.00C547.98,543.43 551.57,542.37 553.90,542.20C556.23,542.03 557.32,542.87 559.00,543.00C560.68,543.13 562.03,542.60 564.00,543.00C565.97,543.40 568.55,544.65 570.80,545.40C573.05,546.15 575.25,547.30 577.50,547.50C579.75,547.70 582.05,547.08 584.30,546.60C586.55,546.12 588.48,545.13 591.00,544.60C593.52,544.07 596.87,543.83 599.40,543.40C601.93,542.97 603.45,542.63 606.20,542.00C608.95,541.37 613.15,540.98 615.90,539.60C618.65,538.22 620.72,536.08 622.70,533.70C624.68,531.32 626.12,528.38 627.80,525.30C629.48,522.22 631.12,518.57 632.80,515.20C634.48,511.83 636.72,507.55 637.90,505.10C639.08,502.65 638.05,504.60 639.90,500.50C641.75,496.40 645.75,488.00 649.00,480.50C652.25,473.00 656.22,462.55 659.40,455.50C662.58,448.45 665.61,442.82 668.09,438.20C670.57,433.58 672.11,431.25 674.29,427.80C676.46,424.35 678.86,420.75 681.13,417.50C683.40,414.25 685.43,411.37 687.88,408.30C690.33,405.23 693.15,401.93 695.84,399.10C698.52,396.28 701.01,393.92 704.00,391.35C706.99,388.78 710.53,386.04 713.80,383.68C717.07,381.33 720.35,379.24 723.60,377.22C726.85,375.19 729.63,373.49 733.30,371.55C736.97,369.61 741.15,367.47 745.60,365.59C750.05,363.71 752.78,362.75 760.00,360.25C767.22,357.75 778.38,353.48 788.90,350.60C799.42,347.73 817.40,344.27 823.10,343.00" stroke="#515151"/>
<path d="M506.75,540.70C507.44,540.70 508.74,540.70 510.90,540.70C513.06,540.70 517.67,540.33 519.70,540.70C521.73,541.07 521.97,542.22 523.10,542.90C524.23,543.58 525.02,544.28 526.50,544.80C527.98,545.32 529.40,546.10 532.00,546.00C534.60,545.90 539.02,544.78 542.10,544.20C545.18,543.62 547.68,542.50 550.50,542.50C553.32,542.50 556.75,543.62 559.00,544.20C561.25,544.78 562.03,545.62 564.00,546.00C565.97,546.38 568.55,546.25 570.80,546.50C573.05,546.75 575.25,547.48 577.50,547.50C579.75,547.52 582.05,547.08 584.30,546.60C586.55,546.12 588.48,545.13 591.00,544.60C593.52,544.07 596.87,543.83 599.40,543.40C601.93,542.97 603.53,542.63 606.20,542.00C608.87,541.37 612.73,540.98 615.40,539.60C618.07,538.22 620.22,536.08 622.20,533.70C624.18,531.32 625.62,528.38 627.30,525.30C628.98,522.22 630.62,518.57 632.30,515.20C633.98,511.83 636.22,507.55 637.40,505.10C638.58,502.65 637.55,504.60 639.40,500.50C641.25,496.40 645.25,488.00 648.50,480.50C651.75,473.00 655.71,462.55 658.90,455.50C662.09,448.45 665.15,442.82 667.66,438.20C670.16,433.58 671.73,431.25 673.94,427.80C676.14,424.35 678.58,420.75 680.88,417.50C683.17,414.25 685.23,411.37 687.72,408.30C690.20,405.23 693.07,401.92 695.78,399.10C698.49,396.28 701.00,393.93 704.00,391.38C707.00,388.82 710.53,386.10 713.80,383.77C717.07,381.43 720.35,379.36 723.60,377.36C726.85,375.36 729.63,373.67 733.30,371.76C736.97,369.84 741.15,367.73 745.60,365.88C750.05,364.02 752.78,363.09 760.00,360.62C767.22,358.16 778.38,353.95 788.90,351.10C799.42,348.25 817.40,344.77 823.10,343.50" stroke="#F14040"/>
<path d="M506.75,544.50C506.99,544.47 507.49,544.37 508.20,544.30C508.91,544.23 509.73,544.33 511.00,544.10C512.27,543.87 514.35,543.10 515.80,542.90C517.25,542.70 518.48,542.62 519.70,542.90C520.92,543.18 521.72,544.15 523.10,544.60C524.48,545.05 526.52,545.40 528.00,545.60C529.48,545.80 530.22,545.85 532.00,545.80C533.78,545.75 536.70,545.50 538.70,545.30C540.70,545.10 542.30,544.75 544.00,544.60C545.70,544.45 546.90,544.40 548.90,544.40C550.90,544.40 553.48,544.63 556.00,544.60C558.52,544.57 561.53,544.07 564.00,544.20C566.47,544.33 568.55,544.85 570.80,545.40C573.05,545.95 575.25,547.30 577.50,547.50C579.75,547.70 582.05,547.08 584.30,546.60C586.55,546.12 588.48,545.13 591.00,544.60C593.52,544.07 596.87,543.83 599.40,543.40C601.93,542.97 603.63,542.63 606.20,542.00C608.77,541.37 612.23,540.98 614.80,539.60C617.37,538.22 619.62,536.08 621.60,533.70C623.58,531.32 625.02,528.38 626.70,525.30C628.38,522.22 630.02,518.57 631.70,515.20C633.38,511.83 635.62,507.55 636.80,505.10C637.98,502.65 636.95,504.60 638.80,500.50C640.65,496.40 644.65,488.00 647.90,480.50C651.15,473.00 655.09,462.55 658.30,455.50C661.51,448.45 664.60,442.82 667.14,438.20C669.68,433.58 671.28,431.25 673.52,427.80C675.76,424.35 678.24,420.75 680.57,417.50C682.90,414.25 685.00,411.37 687.52,408.30C690.05,405.23 692.97,401.92 695.71,399.10C698.46,396.28 700.99,393.94 704.00,391.40C707.01,388.86 710.53,386.17 713.80,383.86C717.07,381.54 720.35,379.49 723.60,377.51C726.85,375.53 729.63,373.86 733.30,371.97C736.97,370.08 741.15,367.99 745.60,366.16C750.05,364.33 752.78,363.43 760.00,361.00C767.22,358.57 778.38,354.43 788.90,351.60C799.42,348.77 817.40,345.27 823.10,344.00" stroke="#1A6FDF"/>
<path d="M512.60,545.60C513.13,545.43 514.62,544.78 515.80,544.60C516.98,544.42 518.48,544.33 519.70,544.50C520.92,544.67 521.72,545.32 523.10,545.60C524.48,545.88 526.18,546.03 528.00,546.20C529.82,546.37 532.00,546.47 534.00,546.60C536.00,546.73 537.67,546.90 540.00,547.00C542.33,547.10 545.33,547.53 548.00,547.20C550.67,546.87 553.33,545.67 556.00,545.00C558.67,544.33 561.53,543.13 564.00,543.20C566.47,543.27 568.55,544.68 570.80,545.40C573.05,546.12 575.25,547.30 577.50,547.50C579.75,547.70 582.05,547.08 584.30,546.60C586.55,546.12 588.48,545.13 591.00,544.60C593.52,544.07 596.87,543.83 599.40,543.40C601.93,542.97 603.72,542.63 606.20,542.00C608.68,541.37 611.82,540.98 614.30,539.60C616.78,538.22 619.12,536.08 621.10,533.70C623.08,531.32 624.52,528.38 626.20,525.30C627.88,522.22 629.52,518.57 631.20,515.20C632.88,511.83 635.12,507.55 636.30,505.10C637.48,502.65 636.45,504.60 638.30,500.50C640.15,496.40 644.15,488.00 647.40,480.50C650.65,473.00 654.58,462.55 657.80,455.50C661.02,448.45 664.15,442.82 666.71,438.20C669.27,433.58 670.91,431.25 673.17,427.80C675.44,424.35 677.95,420.75 680.31,417.50C682.68,414.25 684.80,411.37 687.36,408.30C689.92,405.23 692.88,401.91 695.66,399.10C698.43,396.29 700.98,393.95 704.00,391.43C707.02,388.90 710.53,386.24 713.80,383.94C717.07,381.65 720.35,379.62 723.60,377.66C726.85,375.70 729.63,374.04 733.30,372.18C736.97,370.31 741.15,368.25 745.60,366.44C750.05,364.64 752.78,363.77 760.00,361.38C767.22,358.98 778.38,354.91 788.90,352.10C799.42,349.29 817.40,345.77 823.10,344.50" stroke="#37AD6B"/>
<path d="M523.60,545.50C525.00,545.45 529.27,544.92 532.00,545.20C534.73,545.48 537.67,546.67 540.00,547.20C542.33,547.73 543.83,548.43 546.00,548.40C548.17,548.37 550.83,547.73 553.00,547.00C555.17,546.27 557.17,544.67 559.00,544.00C560.83,543.33 562.03,542.77 564.00,543.00C565.97,543.23 568.55,544.65 570.80,545.40C573.05,546.15 575.25,547.30 577.50,547.50C579.75,547.70 582.05,547.08 584.30,546.60C586.55,546.12 588.48,545.13 591.00,544.60C593.52,544.07 596.87,543.83 599.40,543.40C601.93,542.97 603.80,542.63 606.20,542.00C608.60,541.37 611.40,540.98 613.80,539.60C616.20,538.22 618.62,536.08 620.60,533.70C622.58,531.32 624.02,528.38 625.70,525.30C627.38,522.22 629.02,518.57 630.70,515.20C632.38,511.83 634.62,507.55 635.80,505.10C636.98,502.65 635.95,504.60 637.80,500.50C639.65,496.40 643.65,488.00 646.90,480.50C650.15,473.00 654.07,462.55 657.30,455.50C660.53,448.45 663.69,442.82 666.28,438.20C668.86,433.58 670.53,431.25 672.83,427.80C675.12,424.35 677.66,420.75 680.06,417.50C682.45,414.25 684.60,411.37 687.19,408.30C689.79,405.23 692.80,401.91 695.60,399.10C698.40,396.29 700.97,393.96 704.00,391.45C707.03,388.94 710.53,386.30 713.80,384.03C717.07,381.75 720.35,379.75 723.60,377.81C726.85,375.86 729.63,374.23 733.30,372.38C736.97,370.54 741.15,368.50 745.60,366.73C750.05,364.96 752.78,364.11 760.00,361.75C767.22,359.39 778.38,355.39 788.90,352.60C799.42,349.81 817.40,346.27 823.10,345.00" stroke="#B177DE"/>
<path d="M532.00,545.20C533.12,545.40 536.45,545.83 538.70,546.40C540.95,546.97 543.25,548.43 545.50,548.60C547.75,548.77 549.95,548.20 552.20,547.40C554.45,546.60 557.03,544.53 559.00,543.80C560.97,543.07 562.03,542.73 564.00,543.00C565.97,543.27 568.55,544.65 570.80,545.40C573.05,546.15 575.25,547.30 577.50,547.50C579.75,547.70 582.05,547.08 584.30,546.60C586.55,546.12 588.48,545.13 591.00,544.60C593.52,544.07 596.87,543.83 599.40,543.40C601.93,542.97 603.88,542.63 606.20,542.00C608.52,541.37 610.98,540.98 613.30,539.60C615.62,538.22 618.12,536.08 620.10,533.70C622.08,531.32 623.52,528.38 625.20,525.30C626.88,522.22 628.52,518.57 630.20,515.20C631.88,511.83 634.12,507.55 635.30,505.10C636.48,502.65 635.45,504.60 637.30,500.50C639.15,496.40 643.15,488.00 646.40,480.50C649.65,473.00 653.56,462.55 656.80,455.50C660.04,448.45 663.23,442.82 665.85,438.20C668.46,433.58 670.15,431.25 672.48,427.80C674.80,424.35 677.38,420.75 679.80,417.50C682.23,414.25 684.41,411.37 687.03,408.30C689.65,405.23 692.72,401.90 695.54,399.10C698.37,396.30 700.96,393.97 704.00,391.48C707.04,388.98 710.53,386.37 713.80,384.11C717.07,381.86 720.35,379.87 723.60,377.95C726.85,376.03 729.63,374.41 733.30,372.59C736.97,370.77 741.15,368.76 745.60,367.01C750.05,365.27 752.78,364.44 760.00,362.12C767.22,359.81 778.38,355.87 788.90,353.10C799.42,350.33 817.40,346.77 823.10,345.50" stroke="#CC9900"/>
<path d="M538.70,546.90C539.83,547.23 543.25,548.85 545.50,548.90C547.75,548.95 549.95,548.10 552.20,547.20C554.45,546.30 557.03,544.28 559.00,543.50C560.97,542.72 562.03,542.22 564.00,542.50C565.97,542.78 568.55,544.33 570.80,545.20C573.05,546.07 575.25,547.37 577.50,547.70C579.75,548.03 582.05,547.62 584.30,547.20C586.55,546.78 588.48,545.70 591.00,545.20C593.52,544.70 596.87,544.65 599.40,544.20C601.93,543.75 603.95,543.27 606.20,542.50C608.45,541.73 610.65,541.07 612.90,539.60C615.15,538.13 617.72,536.08 619.70,533.70C621.68,531.32 623.12,528.38 624.80,525.30C626.48,522.22 628.12,518.57 629.80,515.20C631.48,511.83 633.72,507.55 634.90,505.10C636.08,502.65 635.05,504.60 636.90,500.50C638.75,496.40 642.75,488.00 646.00,480.50C649.25,473.00 653.15,462.55 656.40,455.50C659.65,448.45 662.87,442.82 665.50,438.20C668.13,433.58 669.85,431.25 672.20,427.80C674.55,424.35 677.15,420.75 679.60,417.50C682.05,414.25 684.25,411.37 686.90,408.30C689.55,405.23 692.65,401.90 695.50,399.10C698.35,396.30 700.95,393.98 704.00,391.50C707.05,389.02 710.53,386.43 713.80,384.20C717.07,381.97 720.35,380.00 723.60,378.10C726.85,376.20 729.63,374.60 733.30,372.80C736.97,371.00 741.15,369.02 745.60,367.30C750.05,365.58 752.78,364.78 760.00,362.50C767.22,360.22 778.38,356.35 788.90,353.60C799.42,350.85 817.40,347.27 823.10,346.00" stroke="#00CBCC"/>
</g>
<path d="M533.11,576.65v-3.45M533.11,336.90v3.45M664.92,576.65v-3.45M664.92,336.90v3.45M796.74,576.65v-3.45M796.74,336.90v3.45M508.15,539.75h3.45M821.70,539.75h-3.45M508.15,488.69h3.45M821.70,488.69h-3.45M508.15,437.63h3.45M821.70,437.63h-3.45M508.15,386.56h3.45M821.70,386.56h-3.45" stroke="#000" stroke-width="2.8" fill="none"/>
<path d="M599.02,576.65v-1.20M599.02,336.90v1.20M730.83,576.65v-1.20M730.83,336.90v1.20M508.15,565.28h1.20M821.70,565.28h-1.20M508.15,514.22h1.20M821.70,514.22h-1.20M508.15,463.16h1.20M821.70,463.16h-1.20M508.15,412.09h1.20M821.70,412.09h-1.20M508.15,361.03h1.20M821.70,361.03h-1.20" stroke="#000" stroke-width="2.4" fill="none"/>
<rect x="506.75" y="335.50" width="316.35" height="242.55" fill="none" stroke="#000" stroke-width="3.20"/>
<text x="533.11" y="602.35" text-anchor="middle" font-size="26">−5</text>
<text x="664.92" y="602.35" text-anchor="middle" font-size="26">0</text>
<text x="796.74" y="602.35" text-anchor="middle" font-size="26">5</text>
<text x="501.15" y="547.05" text-anchor="end" font-size="26">0.2</text>
<text x="501.15" y="495.99" text-anchor="end" font-size="26">0.4</text>
<text x="501.15" y="444.93" text-anchor="end" font-size="26">0.6</text>
<text x="501.15" y="393.86" text-anchor="end" font-size="26">0.8</text>
<text x="501.15" y="342.80" text-anchor="end" font-size="26">1.0</text>
<text x="86.9" y="248.6" font-size="26">(a1)</text>
<text x="513.4" y="249.4" font-size="26">(a2)</text>
<text x="347.7" y="562.4" font-size="26">(b1)</text>
<text x="775.3" y="565.6" font-size="26">(b2)</text>
<path d="M287.60,120.60H356.00" stroke="#000" stroke-width="2.2" fill="none"/>
<path d="M275.60,120.60L291.70,116.80L291.70,124.40Z" fill="#000"/>
<path d="M287.20,471.90H355.60" stroke="#000" stroke-width="2.2" fill="none"/>
<path d="M275.20,471.90L291.30,468.10L291.30,475.70Z" fill="#000"/>
<text transform="translate(233.00,328.70) skewX(-9.0) scale(1.140,1)" font-size="31.5" font-style="italic" stroke="#000" stroke-width="0.55">ε</text>
<text transform="translate(233.00,643.40) skewX(-9.0) scale(1.140,1)" font-size="31.5" font-style="italic" stroke="#000" stroke-width="0.55">ε</text>
<text transform="translate(617.90,326.20) skewX(-9.0) scale(1.140,1)" font-size="32.5" font-style="italic" stroke="#000" stroke-width="0.55">ε</text>
<text transform="translate(630.70,326.20)" font-size="32.5" font-style="italic">R</text>
<text transform="translate(650.10,312.40)" font-size="21.5">-1/</text>
<text transform="translate(677.20,312.40)" font-size="21.5" font-style="italic" stroke="#000" stroke-width="0.30">ν</text>
<text transform="translate(685.70,318.70) skewX(-9.0) scale(1.140,1)" font-size="16.0" font-style="italic" stroke="#000" stroke-width="0.25">ε</text>
<text transform="translate(697.80,312.40)" font-size="21.5" font-style="italic">r</text>
<text transform="translate(706.90,318.70) skewX(-9.0) scale(1.140,1)" font-size="16.0" font-style="italic" stroke="#000" stroke-width="0.25">ε</text>
<text transform="translate(617.90,640.90) skewX(-9.0) scale(1.140,1)" font-size="32.5" font-style="italic" stroke="#000" stroke-width="0.55">ε</text>
<text transform="translate(630.70,640.90)" font-size="32.5" font-style="italic">R</text>
<text transform="translate(650.10,627.10)" font-size="21.5">-1/</text>
<text transform="translate(677.20,627.10)" font-size="21.5" font-style="italic" stroke="#000" stroke-width="0.30">ν</text>
<text transform="translate(685.70,633.40) skewX(-9.0) scale(1.140,1)" font-size="16.0" font-style="italic" stroke="#000" stroke-width="0.25">ε</text>
<text transform="translate(697.80,627.10)" font-size="21.5" font-style="italic">r</text>
<text transform="translate(706.90,633.40) skewX(-9.0) scale(1.140,1)" font-size="16.0" font-style="italic" stroke="#000" stroke-width="0.25">ε</text>
<g transform="translate(0.00,0.00)" fill="none" stroke="#000" stroke-linecap="round" stroke-linejoin="round"><path d="M18.3,131.5L20.2,137.6" stroke-width="1.8"/><path d="M20.2,137.8C20.0,139.9 17.8,139.8 17.5,137.0" stroke-width="1.15"/><path d="M19.7,138.6C21.5,140.9 25.5,141.3 26.9,138.8" stroke-width="1.1"/><path d="M26.1,132.8L27.1,138.7" stroke-width="1.8"/><path d="M27.1,138.9C28.7,143.1 33.1,145.8 36.0,146.0" stroke-width="1.25"/><path d="M35.6,145.8C38.2,146.1 39.0,144.0 38.5,140.9L38.0,136.9" stroke-width="2.5"/><path d="M38.0,137.0C38.2,134.7 40.9,134.7 42.8,136.4" stroke-width="1.4"/><path d="M42.6,136.3C44.7,138.0 45.7,140.4 45.0,142.2" stroke-width="2.2"/></g>
<text transform="translate(33.4,456.3) rotate(-90)" text-anchor="middle" font-size="32.5">IPR</text>
<g transform="translate(440.00,25.90)" fill="none" stroke="#000" stroke-linecap="round" stroke-linejoin="round"><path d="M18.3,131.5L20.2,137.6" stroke-width="1.8"/><path d="M20.2,137.8C20.0,139.9 17.8,139.8 17.5,137.0" stroke-width="1.15"/><path d="M19.7,138.6C21.5,140.9 25.5,141.3 26.9,138.8" stroke-width="1.1"/><path d="M26.1,132.8L27.1,138.7" stroke-width="1.8"/><path d="M27.1,138.9C28.7,143.1 33.1,145.8 36.0,146.0" stroke-width="1.25"/><path d="M35.6,145.8C38.2,146.1 39.0,144.0 38.5,140.9L38.0,136.9" stroke-width="2.5"/><path d="M38.0,137.0C38.2,134.7 40.9,134.7 42.8,136.4" stroke-width="1.4"/><path d="M42.6,136.3C44.7,138.0 45.7,140.4 45.0,142.2" stroke-width="2.2"/></g>
<g transform="translate(479.0,173) rotate(-90)">
<text transform="translate(13.90,0.00)" font-size="32.5" font-style="italic">R</text>
<text transform="translate(33.40,-12.80)" font-size="22.0" font-style="italic">1/r</text>
<text transform="translate(58.50,-6.80) skewX(-9.0) scale(1.140,1)" font-size="16.0" font-style="italic" stroke="#000" stroke-width="0.25">ε</text>
</g>
<g transform="translate(460.3,532) rotate(-90)">
<text transform="translate(-0.90,0.00)" font-size="32.5">IPR</text>
<text transform="translate(58.20,0.00)" font-size="32.5" font-style="italic">R</text>
<text transform="translate(77.90,-14.10)" font-size="21.5" font-style="italic">-s</text>
<text transform="translate(94.10,-7.50) scale(1.080,1)" font-size="16.0" font-style="italic">δ</text>
<text transform="translate(106.40,-14.10)" font-size="21.5" font-style="italic">/</text>
<text transform="translate(114.90,-14.10)" font-size="21.5" font-style="italic" stroke="#000" stroke-width="0.30">ν</text>
<text transform="translate(124.10,-7.50) scale(1.080,1)" font-size="16.0" font-style="italic">δ</text>
<text transform="translate(136.20,-14.10)" font-size="21.5" font-style="italic">r</text>
<text transform="translate(144.90,-7.50) skewX(-9.0) scale(1.140,1)" font-size="16.0" font-style="italic" stroke="#000" stroke-width="0.25">ε</text>
</g>
<rect x="731.50" y="36.10" width="75.50" height="201.50" fill="#000"/>
<rect x="730.00" y="33.30" width="74.00" height="200.90" fill="#fff" stroke="#000" stroke-width="2"/>
<path d="M732.3,50.20H785.0" stroke="#515151" stroke-width="2.2" fill="none"/>
<text x="788.9" y="58.00" font-size="24">3</text>
<path d="M732.3,78.27H785.0" stroke="#F14040" stroke-width="2.2" fill="none"/>
<text x="788.9" y="86.07" font-size="24">4</text>
<path d="M732.3,106.34H785.0" stroke="#1A6FDF" stroke-width="2.2" fill="none"/>
<text x="788.9" y="114.14" font-size="24">5</text>
<path d="M732.3,134.41H785.0" stroke="#37AD6B" stroke-width="2.2" fill="none"/>
<text x="788.9" y="142.21" font-size="24">6</text>
<path d="M732.3,162.48H785.0" stroke="#B177DE" stroke-width="2.2" fill="none"/>
<text x="788.9" y="170.28" font-size="24">7</text>
<path d="M732.3,190.55H785.0" stroke="#CC9900" stroke-width="2.2" fill="none"/>
<text x="788.9" y="198.35" font-size="24">8</text>
<path d="M732.3,218.62H785.0" stroke="#00CBCC" stroke-width="2.2" fill="none"/>
<text x="788.9" y="226.42" font-size="24">9</text>
<text transform="translate(629.80,67.90)" font-size="26.0" font-style="italic">R=10</text>
<text transform="translate(689.60,57.50)" font-size="16.0" font-style="italic">-3</text>
<text transform="translate(701.60,72.10)" font-size="32.5">×</text>
</svg>
</body></html>
